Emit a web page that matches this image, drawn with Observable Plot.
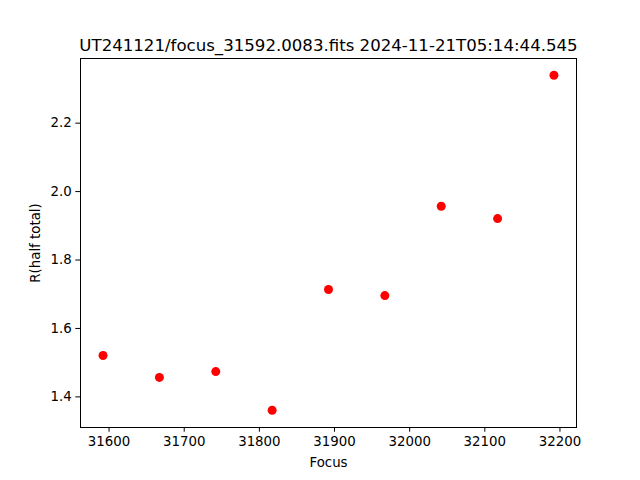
<!DOCTYPE html>
<html>
<head>
<meta charset="utf-8">
<script src="https://cdn.jsdelivr.net/npm/d3@7"></script>
<script src="https://cdn.jsdelivr.net/npm/@observablehq/plot@0.6"></script>
<style>
  html, body { margin: 0; padding: 0; background: white; }
</style>
</head>
<body>
<div id="chart"></div>
<script>
const titleText = "UT241121/focus_31592.0083.fits 2024-11-21T05:14:44.545";
const focus = [31592, 31667, 31742, 31817, 31892, 31967, 32042, 32117, 32192];
const rHalf = [1.521, 1.457, 1.474, 1.361, 1.714, 1.696, 1.957, 1.921, 2.340];
const xTicks = [31600, 31700, 31800, 31900, 32000, 32100, 32200];
const yTicks = [1.4, 1.6, 1.8, 2.0, 2.2];

const data = focus.map((f, i) => ({focus: f, r: rHalf[i]}));

const chart = Plot.plot({
  width: 640,
  height: 480,
  marginLeft: 80,
  marginRight: 64,
  marginTop: 58,
  marginBottom: 53,
  style: {fontFamily: "DejaVu Sans", fontSize: "13.33px", background: "white", color: "black"},
  x: {domain: [31562, 32222]},
  y: {domain: [1.3105, 2.389]},
  marks: [
    Plot.frame({stroke: "black", strokeWidth: 1}),
    Plot.axisX(xTicks, {tickSize: 4.7, tickPadding: 4, tickFormat: d => String(d), fontSize: 13.33,
      label: "Focus", labelAnchor: "center", labelArrow: "none", labelOffset: 39}),
    Plot.axisY(yTicks, {tickSize: 4.7, tickPadding: 4, tickFormat: d => d.toFixed(1), fontSize: 13.33,
      label: "R(half total)", labelAnchor: "center", labelArrow: "none", labelOffset: 50}),
    Plot.dot(data, {x: "focus", y: "r", r: 4.5, fill: "red", stroke: "none"}),
    Plot.text([titleText], {frameAnchor: "top", text: d => d, dy: -8, lineAnchor: "bottom", fontSize: 16.6, fill: "black"})
  ]
});
document.getElementById("chart").appendChild(chart);
</script>
</body>
</html>
